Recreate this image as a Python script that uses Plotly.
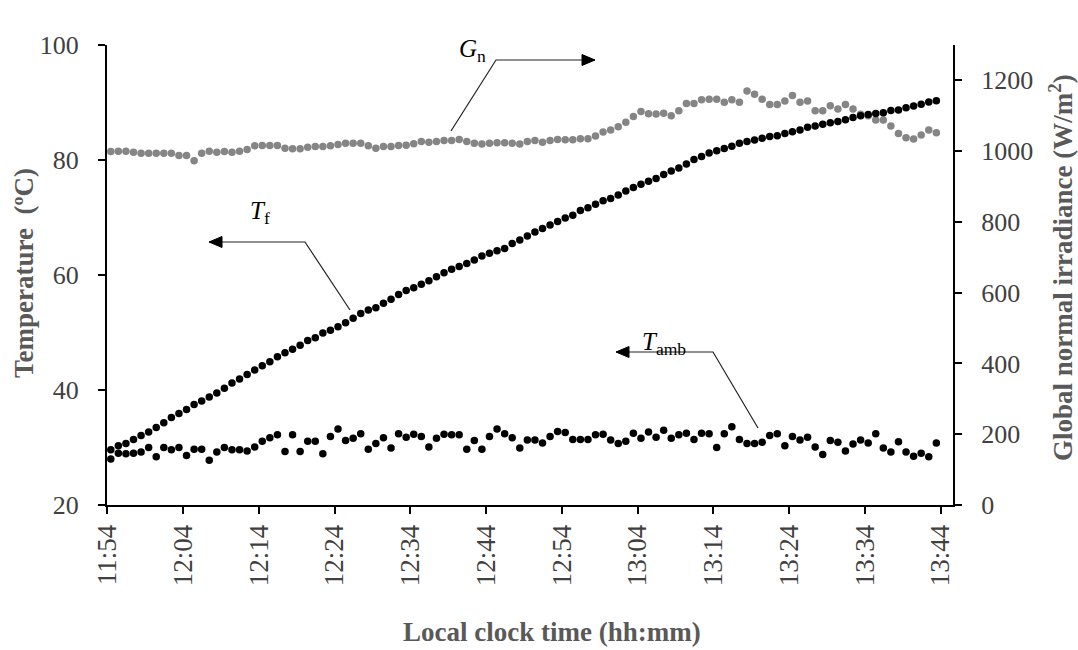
import plotly.graph_objects as go

# ---------------- data ----------------
tick_labels = ["11:54", "12:04", "12:14", "12:24", "12:34", "12:44",
               "12:54", "13:04", "13:14", "13:24", "13:34", "13:44"]

# fluid temperature T_f (°C), one reading per minute
T_f = [29.6, 30.3, 30.7, 31.4, 32.1, 32.7, 33.5, 34.3, 35.2, 35.9,
       36.6, 37.5, 38.1, 38.8, 39.5, 40.3, 41.2, 41.9, 42.7, 43.5,
       44.2, 44.9, 45.8, 46.5, 47.1, 47.8, 48.6, 49.1, 49.9, 50.4,
       51.0, 51.7, 52.5, 53.3, 53.9, 54.3, 55.1, 55.8, 56.6, 57.3,
       57.8, 58.4, 59.0, 59.7, 60.4, 61.0, 61.5, 62.0, 62.6, 63.3,
       63.8, 64.2, 64.6, 65.5, 66.1, 66.8, 67.5, 68.1, 68.7, 69.3,
       69.9, 70.4, 71.2, 71.7, 72.3, 72.9, 73.3, 73.9, 74.6, 75.2,
       75.8, 76.3, 76.8, 77.5, 78.1, 78.6, 79.3, 80.1, 80.6, 81.2,
       81.6, 82.0, 82.4, 82.9, 83.2, 83.5, 83.8, 84.1, 84.2, 84.6,
       84.9, 85.2, 85.7, 85.9, 86.2, 86.5, 86.7, 87.0, 87.4, 87.7,
       87.9, 88.1, 88.2, 88.6, 88.7, 89.1, 89.4, 89.7, 90.1, 90.3]

# ambient temperature T_amb (°C)
T_amb = [28.0, 29.0, 28.9, 29.0, 29.2, 30.0, 28.4, 30.0, 29.6, 30.0,
         28.6, 29.7, 29.7, 27.8, 29.2, 30.0, 29.6, 29.6, 29.4, 30.1,
         31.1, 31.7, 32.2, 29.3, 32.2, 29.3, 31.1, 31.1, 28.9, 31.9,
         33.2, 31.2, 31.6, 32.4, 29.7, 30.7, 31.7, 29.9, 32.4, 31.8,
         32.3, 31.9, 30.1, 31.6, 32.3, 32.2, 32.2, 29.7, 31.2, 29.7,
         31.9, 33.2, 32.4, 31.7, 29.9, 31.3, 31.3, 30.8, 31.9, 32.8,
         32.6, 31.4, 31.4, 31.4, 32.2, 32.3, 31.3, 30.7, 31.1, 32.5,
         31.6, 32.7, 31.8, 33.0, 31.6, 32.2, 32.5, 31.4, 32.5, 32.4,
         30.0, 32.4, 33.6, 31.4, 30.7, 30.7, 30.9, 32.1, 32.4, 30.3,
         31.9, 31.3, 31.8, 30.1, 28.8, 31.2, 30.9, 29.4, 30.6, 31.3,
         30.8, 32.4, 29.9, 29.2, 31.0, 29.2, 28.5, 29.0, 28.4, 30.8]

# global normal irradiance G_n (W/m2)
G_n = [999, 1000, 1000, 997, 994, 994, 994, 994, 994, 988,
       988, 973, 994, 1000, 997, 999, 997, 1000, 1005, 1015,
       1016, 1016, 1016, 1008, 1007, 1007, 1011, 1013, 1013, 1015,
       1019, 1022, 1022, 1022, 1015, 1008, 1013, 1013, 1016, 1017,
       1021, 1027, 1025, 1027, 1030, 1030, 1033, 1027, 1022, 1020,
       1022, 1024, 1024, 1022, 1020, 1027, 1030, 1025, 1030, 1033,
       1032, 1032, 1035, 1035, 1043, 1054, 1060, 1069, 1082, 1098,
       1112, 1106, 1105, 1107, 1100, 1114, 1135, 1135, 1145, 1147,
       1147, 1138, 1145, 1138, 1170, 1161, 1147, 1132, 1132, 1142,
       1157, 1138, 1142, 1114, 1114, 1128, 1119, 1132, 1119, 1104,
       1100, 1088, 1088, 1071, 1050, 1038, 1034, 1046, 1060, 1052]

# minutes after 11:54 for every reading, and tick positions
minutes = [0.45 + i for i in range(len(T_f))]
tick_minutes = [10 * k for k in range(len(tick_labels))]

# ---------------- figure ----------------
W, H = 1078, 650
L, R, T, B = 107, 125, 45, 145
PW, PH = W - L - R, H - T - B
FONT = "Liberation Serif"


def px(x):
    return (x - L) / PW


def py(y):
    return (H - B - y) / PH


fig = go.Figure()
fig.add_trace(go.Scatter(x=minutes, y=G_n, mode="markers", name="G_n",
                         marker=dict(color="#858585", size=7.5),
                         yaxis="y", showlegend=False))
fig.add_trace(go.Scatter(x=minutes, y=T_amb, mode="markers", name="T_amb",
                         marker=dict(color="#000000", size=7.5),
                         yaxis="y2", showlegend=False))
fig.add_trace(go.Scatter(x=minutes, y=T_f, mode="markers", name="T_f",
                         marker=dict(color="#000000", size=7.5),
                         yaxis="y2", showlegend=False))

axis_common = dict(showline=True, linecolor="black", linewidth=2,
                   ticks="outside", ticklen=7, tickwidth=1.5,
                   tickcolor="black", showgrid=False, zeroline=False)
tick_font = dict(family=FONT, size=26, color="#404040")

fig.update_layout(
    width=W, height=H,
    margin=dict(l=L, r=R, t=T, b=B, pad=0),
    paper_bgcolor="white", plot_bgcolor="white",
    font=dict(family=FONT),
    xaxis=dict(range=[-0.05, 111.65], tickvals=tick_minutes,
               ticktext=tick_labels, tickangle=-90,
               tickfont=dict(family=FONT, size=27, color="#404040"),
               **axis_common),
    yaxis=dict(range=[0, 1300], tickvals=[0, 200, 400, 600, 800, 1000, 1200],
               side="right", ticklabelstandoff=14, tickfont=tick_font,
               **axis_common),
    yaxis2=dict(range=[20, 100], tickvals=[20, 40, 60, 80, 100],
                side="left", overlaying="y", ticklabelstandoff=14,
                tickfont=tick_font, **axis_common),
)


def label(text, x, y, font, angle=0):
    fig.add_annotation(text=text, xref="paper", yref="paper",
                       x=px(x), y=py(y), xanchor="center", yanchor="middle",
                       textangle=angle, showarrow=False, font=font)


title_font = dict(family=FONT, size=27, color="#595959")
label("<b>Temperature\u00a0\u00a0(ºC)</b>", 24, 273, title_font, -90)
label("<b>Global normal irradiance (W/m<sup>2</sup>)</b>", 1061, 268,
      title_font, -90)
label("<b>Local clock time (hh:mm)</b>", 552, 632, title_font)

# series labels
label_font = dict(family=FONT, size=25, color="black")
label("<i>G</i><sub>n</sub>", 472, 50, label_font)
label("<i>T</i><sub>f</sub>", 260, 212, label_font)
label("<i>T</i><sub>amb</sub>", 664, 343, label_font)


def leader(p0, p1, p2):
    """Leader line p0 -> p1 -> p2 with a filled arrowhead at p2 (pixels)."""
    path = "M {} {} L {} {} L {} {}".format(px(p0[0]), py(p0[1]),
                                           px(p1[0]), py(p1[1]),
                                           px(p2[0]), py(p2[1]))
    fig.add_shape(type="path", xref="paper", yref="paper", path=path,
                  line=dict(color="#222222", width=1.2))
    d = 1 if p2[0] > p1[0] else -1
    hl, hw = 13, 5.5
    tri = "M {} {} L {} {} L {} {} Z".format(
        px(p2[0]), py(p2[1]),
        px(p2[0] - d * hl), py(p2[1] - hw),
        px(p2[0] - d * hl), py(p2[1] + hw))
    fig.add_shape(type="path", xref="paper", yref="paper", path=tri,
                  line=dict(color="black", width=1), fillcolor="black")


leader((451, 131), (496, 60), (595, 60))
leader((350, 310), (305, 242), (209, 242))
leader((758, 428), (713, 352), (616, 352))

fig.write_html("out.html")
